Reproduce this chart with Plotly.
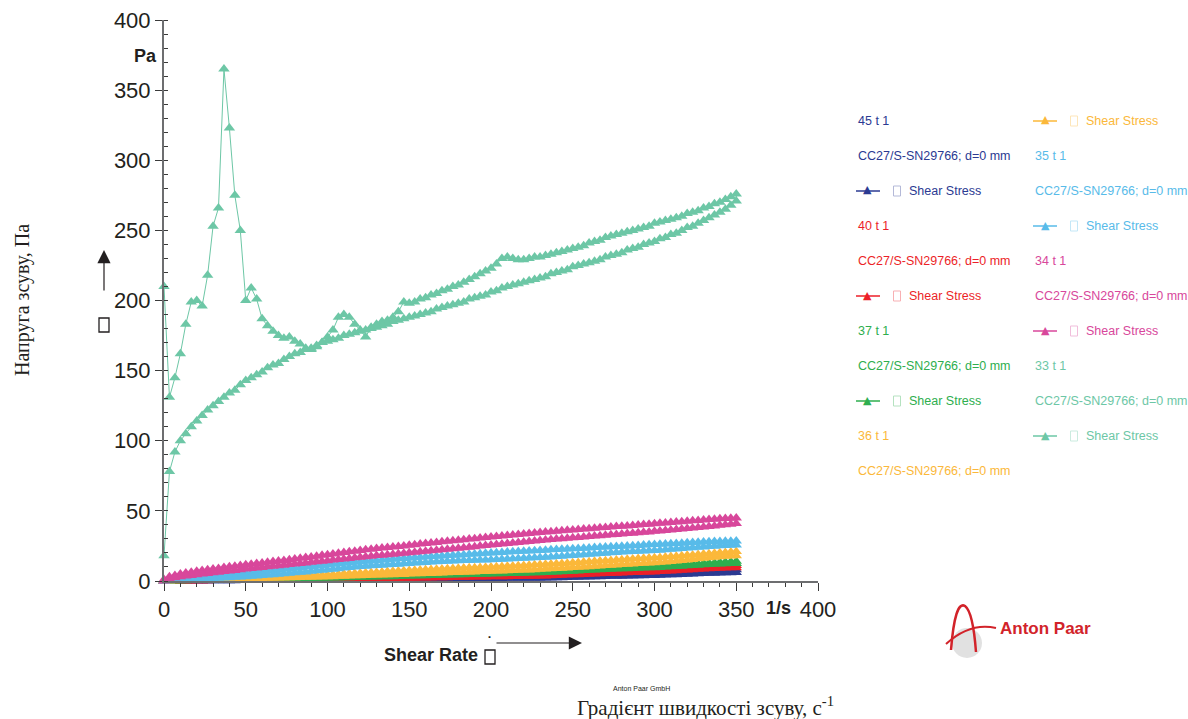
import plotly.graph_objects as go

# ---------------- data ----------------
shear_rate = [
    0, 3.33, 6.67, 10, 13.33, 16.67, 20, 23.33, 26.67, 30,
    33.33, 36.67, 40, 43.33, 46.67, 50, 53.33, 56.67, 60, 63.33,
    66.67, 70, 73.33, 76.67, 80, 83.33, 86.67, 90, 93.33, 96.67,
    100, 103.33, 106.67, 110, 113.33, 116.67, 120, 123.33, 126.67, 130,
    133.33, 136.67, 140, 143.33, 146.67, 150, 153.33, 156.67, 160, 163.33,
    166.67, 170, 173.33, 176.67, 180, 183.33, 186.67, 190, 193.33, 196.67,
    200, 203.33, 206.67, 210, 213.33, 216.67, 220, 223.33, 226.67, 230,
    233.33, 236.67, 240, 243.33, 246.67, 250, 253.33, 256.67, 260, 263.33,
    266.67, 270, 273.33, 276.67, 280, 283.33, 286.67, 290, 293.33, 296.67,
    300, 303.33, 306.67, 310, 313.33, 316.67, 320, 323.33, 326.67, 330,
    333.33, 336.67, 340, 343.33, 346.67, 350,
]

series_names = ["45 t 1", "40 t 1", "37 t 1", "36 t 1", "35 t 1", "34 t 1", "33 t 1"]
series_colors = ["#2b3a92", "#ec1f28", "#2eae4e", "#fbb83a", "#58bbe9", "#d8479b", "#6dc7a6"]

# each series: stress on the rising ramp and on the falling ramp (both listed at ascending shear rate)
s45_up = [
    0, 0, 0, 0.1, 0.1, 0.1, 0.2, 0.2, 0.2, 0.3,
    0.3, 0.3, 0.4, 0.4, 0.4, 0.5, 0.5, 0.5, 0.6, 0.6,
    0.6, 0.7, 0.7, 0.7, 0.8, 0.8, 0.8, 0.9, 0.9, 0.95,
    1, 1.05, 1.1, 1.2, 1.2, 1.3, 1.3, 1.4, 1.4, 1.5,
    1.5, 1.6, 1.6, 1.7, 1.7, 1.8, 1.8, 1.9, 1.9, 2,
    2, 2.1, 2.1, 2.2, 2.2, 2.3, 2.3, 2.4, 2.4, 2.5,
    2.5, 2.6, 2.6, 2.7, 2.7, 2.8, 2.8, 2.9, 2.9, 3,
    3.1, 3.2, 3.3, 3.4, 3.5, 3.6, 3.8, 3.9, 4, 4.1,
    4.2, 4.3, 4.4, 4.5, 4.7, 4.8, 4.9, 5, 5.2, 5.3,
    5.5, 5.6, 5.8, 5.9, 6.1, 6.3, 6.5, 6.7, 6.9, 7.1,
    7.3, 7.5, 7.6, 7.7, 7.9, 8,
]
s45_down = [
    0, 0, 0, 0, 0.1, 0.1, 0.1, 0.1, 0.1, 0.2,
    0.2, 0.2, 0.2, 0.2, 0.3, 0.3, 0.3, 0.3, 0.3, 0.4,
    0.4, 0.4, 0.4, 0.4, 0.4, 0.45, 0.45, 0.5, 0.5, 0.5,
    0.5, 0.55, 0.6, 0.6, 0.65, 0.7, 0.7, 0.75, 0.8, 0.8,
    0.85, 0.9, 0.9, 0.95, 1, 1, 1.1, 1.1, 1.2, 1.3,
    1.3, 1.4, 1.4, 1.5, 1.5, 1.6, 1.6, 1.7, 1.7, 1.8,
    1.8, 1.8, 1.85, 1.9, 1.9, 1.9, 1.95, 2, 2, 2,
    2.1, 2.2, 2.3, 2.4, 2.5, 2.6, 2.7, 2.8, 2.9, 3,
    3.1, 3.2, 3.3, 3.4, 3.4, 3.5, 3.6, 3.7, 3.8, 3.9,
    4, 4.1, 4.2, 4.4, 4.5, 4.7, 4.9, 5, 5.2, 5.4,
    5.5, 5.6, 5.7, 5.8, 5.9, 6,
]
s40_up = [
    0, 0, 0.1, 0.1, 0.2, 0.2, 0.3, 0.3, 0.4, 0.4,
    0.5, 0.5, 0.6, 0.6, 0.7, 0.7, 0.8, 0.8, 0.9, 0.9,
    1, 1, 1.1, 1.1, 1.2, 1.2, 1.3, 1.3, 1.4, 1.4,
    1.5, 1.6, 1.6, 1.7, 1.8, 1.8, 1.9, 2, 2, 2.1,
    2.2, 2.2, 2.3, 2.3, 2.4, 2.5, 2.5, 2.6, 2.7, 2.8,
    2.8, 2.9, 3, 3, 3.1, 3.2, 3.2, 3.3, 3.4, 3.4,
    3.5, 3.6, 3.6, 3.7, 3.8, 3.9, 4, 4.1, 4.2, 4.3,
    4.4, 4.5, 4.7, 4.8, 5, 5.1, 5.3, 5.4, 5.6, 5.7,
    5.9, 6, 6.2, 6.3, 6.5, 6.6, 6.8, 6.9, 7.1, 7.3,
    7.5, 7.7, 7.9, 8.1, 8.4, 8.6, 8.9, 9.1, 9.4, 9.7,
    10, 10.2, 10.4, 10.6, 10.8, 11,
]
s40_down = [
    0, 0, 0, 0.1, 0.1, 0.1, 0.2, 0.2, 0.2, 0.3,
    0.3, 0.3, 0.4, 0.4, 0.4, 0.5, 0.5, 0.5, 0.6, 0.6,
    0.6, 0.7, 0.7, 0.7, 0.8, 0.8, 0.8, 0.9, 0.9, 0.95,
    1, 1.1, 1.1, 1.2, 1.3, 1.3, 1.4, 1.5, 1.5, 1.6,
    1.7, 1.7, 1.8, 1.8, 1.9, 2, 2, 2.1, 2.2, 2.2,
    2.3, 2.4, 2.4, 2.5, 2.6, 2.6, 2.7, 2.8, 2.8, 2.9,
    3, 3, 3.1, 3.1, 3.2, 3.2, 3.3, 3.3, 3.4, 3.5,
    3.6, 3.8, 3.9, 4.1, 4.2, 4.4, 4.5, 4.7, 4.8, 5,
    5.1, 5.3, 5.4, 5.6, 5.7, 5.9, 6, 6.1, 6.3, 6.4,
    6.5, 6.7, 6.9, 7.1, 7.3, 7.6, 7.8, 8, 8.3, 8.5,
    8.7, 8.9, 9.1, 9.2, 9.4, 9.5,
]
s37_up = [
    0, 0.1, 0.2, 0.3, 0.4, 0.5, 0.6, 0.7, 0.8, 0.9,
    1, 1.05, 1.1, 1.2, 1.3, 1.5, 1.55, 1.6, 1.7, 1.8,
    1.85, 1.9, 2, 2.05, 2.1, 2.2, 2.3, 2.35, 2.4, 2.45,
    2.5, 2.6, 2.7, 2.8, 2.9, 3, 3.1, 3.2, 3.3, 3.4,
    3.5, 3.6, 3.7, 3.8, 3.9, 4, 4.1, 4.2, 4.35, 4.5,
    4.6, 4.8, 4.9, 5.1, 5.2, 5.4, 5.5, 5.7, 5.8, 5.9,
    6, 6.1, 6.2, 6.3, 6.4, 6.5, 6.6, 6.7, 6.8, 6.9,
    7.1, 7.2, 7.4, 7.6, 7.8, 8, 8.1, 8.3, 8.5, 8.7,
    8.9, 9, 9.2, 9.4, 9.6, 9.7, 9.9, 10.1, 10.3, 10.4,
    10.5, 10.7, 10.9, 11.1, 11.3, 11.6, 11.8, 12.1, 12.3, 12.6,
    12.8, 13.1, 13.3, 13.5, 13.8, 14,
]
s37_down = [
    0, 0, 0.1, 0.2, 0.2, 0.3, 0.4, 0.4, 0.5, 0.6,
    0.6, 0.7, 0.8, 0.8, 0.9, 1, 1, 1.1, 1.2, 1.3,
    1.3, 1.4, 1.5, 1.6, 1.6, 1.7, 1.8, 1.8, 1.9, 1.9,
    2, 2.1, 2.2, 2.3, 2.4, 2.5, 2.6, 2.7, 2.8, 2.9,
    3, 3.1, 3.1, 3.2, 3.3, 3.5, 3.6, 3.7, 3.8, 3.9,
    4, 4.1, 4.2, 4.3, 4.4, 4.5, 4.6, 4.7, 4.8, 4.9,
    5, 5.1, 5.2, 5.3, 5.4, 5.5, 5.6, 5.7, 5.8, 5.9,
    6.1, 6.3, 6.4, 6.6, 6.8, 7, 7.2, 7.4, 7.6, 7.8,
    8, 8.2, 8.3, 8.5, 8.7, 8.8, 9, 9.1, 9.3, 9.4,
    9.5, 9.7, 9.9, 10.1, 10.3, 10.5, 10.8, 11, 11.2, 11.5,
    11.7, 11.9, 12.1, 12.3, 12.4, 12.5,
]
s36_up = [
    0, 0.1, 0.3, 0.5, 0.7, 0.8, 1, 1.1, 1.2, 1.4,
    1.5, 1.6, 1.8, 1.9, 2.1, 2.3, 2.4, 2.6, 2.7, 2.8,
    3, 3.1, 3.2, 3.3, 3.5, 3.6, 3.8, 3.9, 4.1, 4.3,
    4.5, 4.7, 4.9, 5.1, 5.3, 5.5, 5.7, 5.9, 6.1, 6.3,
    6.5, 6.7, 6.9, 7.1, 7.3, 7.5, 7.6, 7.8, 8, 8.2,
    8.4, 8.6, 8.7, 8.9, 9.1, 9.2, 9.4, 9.5, 9.7, 9.8,
    10, 10.2, 10.4, 10.6, 10.7, 10.9, 11.1, 11.3, 11.5, 11.7,
    11.9, 12.1, 12.3, 12.5, 12.7, 13, 13.2, 13.5, 13.7, 14,
    14.2, 14.5, 14.7, 15, 15.2, 15.5, 15.7, 16, 16.2, 16.4,
    16.5, 16.8, 17.1, 17.4, 17.7, 18, 18.3, 18.6, 18.9, 19.2,
    19.5, 19.8, 20.1, 20.4, 20.7, 21,
]
s36_down = [
    0, 0.1, 0.2, 0.3, 0.4, 0.5, 0.6, 0.7, 0.8, 0.9,
    1, 1.1, 1.2, 1.3, 1.4, 1.5, 1.6, 1.7, 1.8, 1.9,
    2, 2.1, 2.2, 2.3, 2.4, 2.5, 2.6, 2.7, 2.8, 2.9,
    3, 3.1, 3.3, 3.4, 3.5, 3.7, 3.8, 3.9, 4.1, 4.2,
    4.3, 4.4, 4.5, 4.6, 4.7, 5, 5.1, 5.2, 5.3, 5.4,
    5.6, 5.7, 5.8, 6, 6.1, 6.2, 6.4, 6.5, 6.7, 6.8,
    7, 7.1, 7.2, 7.3, 7.5, 7.6, 7.8, 7.9, 8.1, 8.3,
    8.5, 8.7, 8.9, 9.1, 9.3, 9.6, 9.8, 10, 10.2, 10.5,
    10.7, 11, 11.2, 11.4, 11.7, 11.9, 12.2, 12.4, 12.6, 12.8,
    13, 13.3, 13.6, 13.9, 14.2, 14.6, 15, 15.4, 15.8, 16.2,
    16.6, 17, 17.3, 17.6, 17.8, 18,
]
s35_up = [
    0, 0.5, 1, 1.5, 1.9, 2.3, 2.6, 2.9, 3.2, 3.5,
    3.8, 4.1, 4.4, 4.8, 5.1, 5.5, 5.9, 6.3, 6.7, 7.1,
    7.5, 7.9, 8.3, 8.7, 9.1, 9.5, 9.9, 10.3, 10.7, 11.1,
    11.5, 11.9, 12.3, 12.7, 13.1, 13.4, 13.7, 14, 14.3, 14.6,
    14.9, 15.2, 15.5, 15.8, 16.1, 16.4, 16.6, 16.9, 17.1, 17.4,
    17.6, 17.8, 18.1, 18.3, 18.5, 18.8, 19, 19.2, 19.5, 19.8,
    20, 20.2, 20.4, 20.6, 20.8, 21, 21.2, 21.4, 21.6, 21.8,
    22, 22.2, 22.4, 22.6, 22.8, 23, 23.2, 23.4, 23.6, 23.8,
    24, 24.2, 24.4, 24.6, 24.8, 25, 25.2, 25.4, 25.6, 25.8,
    26, 26.2, 26.4, 26.6, 26.8, 27, 27.2, 27.4, 27.6, 27.8,
    28, 28.1, 28.2, 28.3, 28.4, 28.5,
]
s35_down = [
    0, 0.2, 0.4, 0.6, 0.8, 1, 1.2, 1.4, 1.6, 1.8,
    2, 2.2, 2.4, 2.6, 2.8, 3, 3.3, 3.6, 3.9, 4.2,
    4.5, 4.9, 5.2, 5.5, 5.8, 6.2, 6.5, 6.9, 7.3, 7.6,
    8, 8.4, 8.8, 9.2, 9.6, 10, 10.3, 10.5, 10.8, 11,
    11.3, 11.5, 11.8, 12, 12.3, 12.5, 12.8, 13, 13.2, 13.5,
    13.7, 13.9, 14.1, 14.3, 14.5, 14.6, 14.7, 14.8, 14.9, 15,
    15.1, 15.3, 15.5, 15.6, 15.8, 16, 16.2, 16.4, 16.6, 16.8,
    17, 17.2, 17.4, 17.7, 18, 18.2, 18.5, 18.8, 19, 19.3,
    19.6, 19.8, 20.1, 20.3, 20.6, 20.8, 21, 21.2, 21.4, 21.5,
    21.7, 22, 22.3, 22.6, 22.9, 23.2, 23.5, 23.7, 24, 24.3,
    24.6, 24.8, 25.1, 25.3, 25.5, 25.7,
]
s34_up = [
    1, 3, 4, 5, 5.7, 6.3, 7, 7.5, 8, 8.5,
    9, 9.6, 10.1, 10.6, 11, 11.5, 12, 12.5, 12.9, 13.4,
    13.9, 14.3, 14.7, 15.2, 15.7, 16.2, 16.7, 17.2, 17.7, 18.3,
    18.8, 19.3, 19.8, 20.3, 20.8, 21.3, 21.8, 22.2, 22.6, 23.1,
    23.5, 23.9, 24.2, 24.6, 25, 25.5, 25.9, 26.3, 26.7, 27.1,
    27.5, 27.9, 28.3, 28.7, 29.1, 29.5, 29.9, 30.2, 30.6, 31,
    31.3, 31.7, 32.1, 32.4, 32.8, 33.1, 33.5, 33.8, 34.2, 34.5,
    34.9, 35.2, 35.5, 35.8, 36.1, 36.4, 36.7, 37, 37.3, 37.6,
    37.9, 38.2, 38.5, 38.8, 39, 39.3, 39.6, 39.9, 40.2, 40.5,
    40.8, 41.1, 41.4, 41.7, 42, 42.3, 42.6, 42.9, 43.2, 43.5,
    43.8, 44.1, 44.4, 44.6, 44.8, 45,
]
s34_down = [
    0, 1.5, 2.3, 3, 3.5, 4, 4.5, 5, 5.4, 5.8,
    6.2, 6.7, 7.1, 7.5, 8, 8.5, 8.9, 9.3, 9.7, 10.1,
    10.5, 10.9, 11.3, 11.7, 12.1, 12.5, 12.9, 13.3, 13.7, 14.1,
    14.5, 14.9, 15.3, 15.7, 16.1, 16.5, 17, 17.3, 17.7, 18.1,
    18.4, 18.8, 19.1, 19.5, 19.8, 20.2, 20.5, 20.9, 21.2, 21.6,
    21.9, 22.3, 22.6, 23, 23.4, 23.7, 24.1, 24.5, 24.9, 25.3,
    25.7, 26, 26.4, 26.8, 27.1, 27.5, 27.8, 28.2, 28.5, 28.9,
    29.2, 29.6, 29.9, 30.2, 30.5, 30.8, 31.1, 31.4, 31.7, 32,
    32.3, 32.6, 32.9, 33.2, 33.5, 33.8, 34.1, 34.4, 34.7, 35,
    35.4, 35.7, 36, 36.4, 36.7, 37.1, 37.4, 37.8, 38.1, 38.5,
    38.9, 39.3, 39.7, 40.1, 40.5, 41,
]
s33_up = [
    210, 131, 145, 162, 183, 199, 200, 196, 218, 253,
    266, 365, 323, 275, 250, 200, 209, 201, 187, 182,
    178, 175, 173, 174, 171, 169, 166, 165, 167, 170,
    174, 179, 188, 190, 188, 183, 179, 174, 181, 183,
    185, 186, 188, 192, 199, 198, 199, 201, 202, 204,
    205, 207, 208, 210, 211, 213, 215, 217, 219, 221,
    223, 226, 230, 231, 230, 229, 229, 230, 231, 231,
    232, 233, 234, 235, 236, 237, 238, 239, 241, 242,
    243, 245, 246, 247, 248, 249, 250, 251, 252, 253,
    255, 256, 257, 258, 259, 260, 262, 263, 264, 266,
    267, 269, 270, 272, 274, 276,
]
s33_down = [
    18, 78, 92, 100, 105, 110, 114, 118, 122, 125,
    128, 131, 134, 136, 140, 143, 145, 147, 149, 152,
    154, 155, 158, 160, 162, 163, 165, 166, 168, 170,
    171, 172, 173, 175, 176, 177, 178, 179, 180, 181,
    182, 183, 185, 186, 187, 188, 189, 190, 191, 192,
    194, 195, 196, 197, 198, 199, 201, 202, 203, 204,
    206, 207, 209, 210, 211, 212, 213, 214, 215, 216,
    217, 219, 220, 221, 222, 224, 225, 226, 227, 228,
    229, 231, 232, 233, 234, 236, 237, 238, 240, 241,
    242, 244, 245, 247, 248, 250, 252, 253, 255, 257,
    259, 261, 263, 265, 268, 271,
]

ramps_up = [s45_up, s40_up, s37_up, s36_up, s35_up, s34_up, s33_up]
ramps_down = [s45_down, s40_down, s37_down, s36_down, s35_down, s34_down, s33_down]

x_tick_vals = [0, 50, 100, 150, 200, 250, 300, 350, 400]
y_tick_vals = [0, 50, 100, 150, 200, 250, 300, 350, 400]

legend_line1 = "CC27/S-SN29766; d=0 mm"
legend_line2 = "Shear Stress"

# ---------------- layout geometry (screen pixels) ----------------
W, H = 1188, 719
X0, X1, Y0, Y1 = 164, 818, 20, 581          # plot area
L, R, T, B = X0, W - X1, Y0, H - Y1
PW, PH = X1 - X0, Y1 - Y0


def px(xp):
    return (xp - X0) / PW


def py(yp):
    return (Y1 - yp) / PH


TXT = "#231f20"
SANS = "Liberation Sans, Arial, sans-serif"
SERIF = "Liberation Serif, Times New Roman, serif"
LEG_SIZE = 12.5

fig = go.Figure()

for name, col, up, down in zip(series_names, series_colors, ramps_up, ramps_down):
    xs = list(shear_rate) + list(reversed(shear_rate))
    ys = list(up) + list(reversed(down))
    fig.add_trace(go.Scatter(
        x=xs, y=ys, mode="lines+markers", name=name,
        line=dict(color=col, width=1),
        marker=dict(symbol="triangle-up", size=10, color=col, line=dict(width=0)),
        showlegend=False, cliponaxis=False,
    ))

annotations = []
shapes = []


def note(xp, yp, text, size, family=SANS, color=TXT, xanchor="center", **kw):
    annotations.append(dict(x=px(xp), y=py(yp), xref="paper", yref="paper", text=text,
                            showarrow=False, xanchor=xanchor, yanchor="middle",
                            font=dict(family=family, size=size, color=color), **kw))


def box(xc, yc, w, h, color, width=1.2, opacity=1.0):
    shapes.append(dict(type="rect", xref="paper", yref="paper",
                       x0=px(xc - w / 2), x1=px(xc + w / 2), y0=py(yc + h / 2), y1=py(yc - h / 2),
                       line=dict(color=color, width=width), fillcolor="rgba(0,0,0,0)",
                       opacity=opacity))


# axis unit labels
note(145, 56, "<b>Pa</b>", 18)
note(778, 608, "<b>1/s</b>", 18)

# "Shear Rate" label with arrow
note(431, 655, "<b>Shear Rate</b>", 18)
box(490, 657, 10, 14, TXT, width=1.3)
note(489, 643, "˙", 18, family="DejaVu Sans")
annotations.append(dict(x=px(582), y=py(643), xref="paper", yref="paper", text="",
                        showarrow=True, ax=-87, ay=0, arrowhead=2, arrowsize=2.2,
                        arrowwidth=1.2, arrowcolor=TXT))

# vertical arrow + glyph next to y axis
annotations.append(dict(x=px(104), y=py(250), xref="paper", yref="paper", text="",
                        showarrow=True, ax=0, ay=42, arrowhead=2, arrowsize=2.2,
                        arrowwidth=1.2, arrowcolor=TXT))
box(104, 325, 10, 14, TXT, width=1.3)

# outer (Ukrainian) axis titles
note(22, 300, "Напруга зсуву, Па", 20, family=SERIF, textangle=-90)
note(705, 706, "Градієнт швидкості зсуву, с<sup>-1</sup>", 21, family=SERIF)
note(641, 688, "Anton Paar GmbH", 7)

# custom two-column legend
rows = []
for i in range(len(series_names)):
    rows.append(("name", i))
    rows.append(("geom", i))
    rows.append(("sym", i))
col_x = [856, 1033]
for r, (kind, i) in enumerate(rows):
    c, k = divmod(r, 11)
    x0 = col_x[c]
    yy = 121 + 35 * k
    col = series_colors[i]
    if kind == "name":
        note(x0, yy, series_names[i], LEG_SIZE, color=col, xanchor="left")
    elif kind == "geom":
        note(x0, yy, legend_line1, LEG_SIZE, color=col, xanchor="left")
    else:
        shapes.append(dict(type="line", xref="paper", yref="paper", x0=px(x0), x1=px(x0 + 24),
                           y0=py(yy), y1=py(yy), line=dict(color=col, width=1.5)))
        note(x0 + 12, yy - 1, "▲", 11, family="DejaVu Sans", color=col)
        box(x0 + 41, yy, 7, 10, col, width=1, opacity=0.35)
        note(x0 + 51, yy, legend_line2, LEG_SIZE, color=col, xanchor="left")

# Anton Paar logo (approximation)
shapes.append(dict(type="circle", xref="paper", yref="paper", x0=px(952), x1=px(982),
                   y0=py(658), y1=py(628), fillcolor="#d9d9d9", line=dict(width=0), opacity=0.8))
shapes.append(dict(type="path", xref="paper", yref="paper",
                   path=f"M {px(951)},{py(650)} Q {px(955)},{py(600)} {px(965)},{py(606)} "
                        f"Q {px(973)},{py(612)} {px(976)},{py(652)}",
                   line=dict(color="#d2232a", width=2.5)))
shapes.append(dict(type="path", xref="paper", yref="paper",
                   path=f"M {px(946)},{py(644)} Q {px(970)},{py(622)} {px(996)},{py(628)}",
                   line=dict(color="#d2232a", width=2)))
note(1045, 628, "<b>Anton Paar</b>", 17, color="#d2232a")

axis_common = dict(
    showgrid=False, zeroline=False, showline=True, linecolor="#6d6e70", linewidth=2,
    ticks="outside", tickcolor="#3a3a3a", tickwidth=1.3, automargin=False,
    ticklabeloverflow="allow",
    tickfont=dict(family=SANS, size=22, color=TXT),
)

fig.update_layout(
    width=W, height=H,
    margin=dict(l=L, r=R, t=T, b=B, pad=0, autoexpand=False),
    paper_bgcolor="white", plot_bgcolor="white",
    showlegend=False,
    xaxis=dict(range=[0, 400], tickvals=x_tick_vals,
               ticklen=8, minor=dict(dtick=10, ticks="outside", ticklen=4, tickcolor="#3a3a3a"),
               **axis_common),
    yaxis=dict(range=[0, 400], tickvals=y_tick_vals, ticklen=7,
               minor=dict(dtick=10, ticks="inside", ticklen=4, tickcolor="#3a3a3a"),
               **axis_common),
    annotations=annotations,
    shapes=shapes,
)

# remove the browser's default page margin so the 1188x719 figure fills the window exactly
fig.write_html("out.html", config={"displayModeBar": False},
               post_script="document.body.style.margin='0';document.body.style.overflow='hidden';")
